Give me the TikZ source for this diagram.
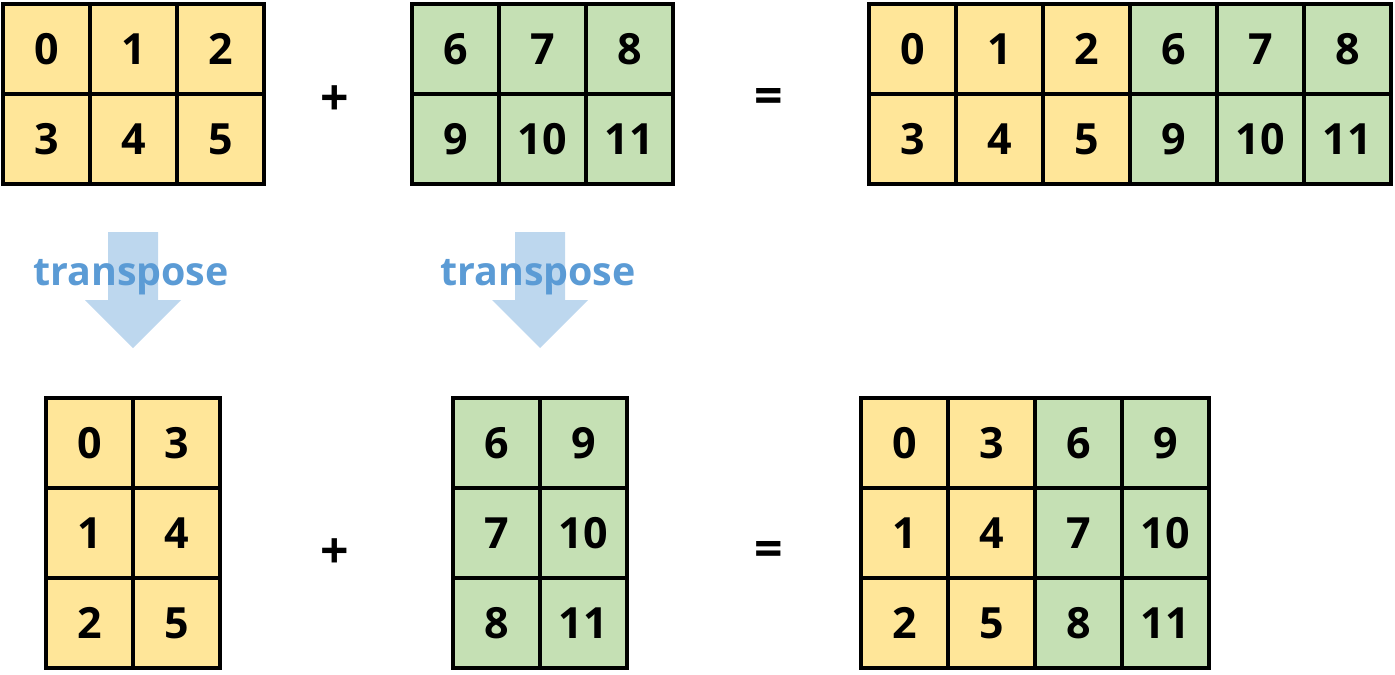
\documentclass[tikz,border=0pt]{standalone}
\usepackage{fontspec}
\setmainfont{Open Sans}
\usepackage{tikz}
\definecolor{cellyellow}{RGB}{255, 230, 153}
\definecolor{cellgreen}{RGB}{197, 224, 180}
\definecolor{arrowblue}{RGB}{189, 215, 238}
\definecolor{textblue}{RGB}{91, 155, 213}
\tikzset{
	cell/.style={draw=black, line width=2pt, minimum width=43.5pt, minimum height=45pt,
		inner sep=0pt, font=\fontsize{21.5}{25}\selectfont\bfseries},
	opsign/.style={font=\fontsize{25}{30}\selectfont\bfseries, inner sep=0pt},
	arrowlabel/.style={font=\fontsize{19.7}{23}\selectfont\bfseries, text=textblue, inner sep=0pt},
}
\begin{document}
\begin{tikzpicture}[x=0.5pt, y=-0.5pt]
	\useasboundingbox (0,0) rectangle (1395,674);
	\def\cw{87}
	\def\ch{90}

	% --- top row: A (2x3) + B (2x3) = [A B] ---
	\foreach \v [count=\i from 0] in {0,1,2,3,4,5} {
		\pgfmathtruncatemacro{\row}{\i/3}
		\pgfmathtruncatemacro{\col}{mod(\i,3)}
		\node[cell, fill=cellyellow] (a\v) at (3+0.5*\cw+\col*\cw, 4+0.5*\ch+\row*\ch) {\v};
	}
	\foreach \v [count=\i from 0] in {6,7,8,9,10,11} {
		\pgfmathtruncatemacro{\row}{\i/3}
		\pgfmathtruncatemacro{\col}{mod(\i,3)}
		\node[cell, fill=cellgreen] (b\v) at (412+0.5*\cw+\col*\cw, 4+0.5*\ch+\row*\ch) {\v};
	}
	\foreach \v [count=\i from 0] in {0,1,2,6,7,8,3,4,5,9,10,11} {
		\pgfmathtruncatemacro{\row}{\i/6}
		\pgfmathtruncatemacro{\col}{mod(\i,6)}
		\ifnum\col<3 \def\fillc{cellyellow}\else \def\fillc{cellgreen}\fi
		\node[cell, fill=\fillc] (ab\v) at (869+0.5*\cw+\col*\cw, 4+0.5*\ch+\row*\ch) {\v};
	}

	\node[opsign] (plustop) at (335,101) {+};
	\node[opsign] (eqtop) at (769,101) {=};

	% --- transpose arrows ---
	\foreach \ax/\nm in {133/tra, 540/trb} {
		\fill[arrowblue] (\ax-25,232) -- (\ax+25,232) -- (\ax+25,300) -- (\ax+48,300)
			-- (\ax,348) -- (\ax-48,300) -- (\ax-25,300) -- cycle;
		\node[arrowlabel] (\nm) at (\ax-2,277) {transpose};
	}

	% --- bottom row: A^T (3x2) + B^T (3x2) = [A^T B^T] ---
	\foreach \v [count=\i from 0] in {0,3,1,4,2,5} {
		\pgfmathtruncatemacro{\row}{\i/2}
		\pgfmathtruncatemacro{\col}{mod(\i,2)}
		\node[cell, fill=cellyellow] (at\v) at (46+0.5*\cw+\col*\cw, 398+0.5*\ch+\row*\ch) {\v};
	}
	\foreach \v [count=\i from 0] in {6,9,7,10,8,11} {
		\pgfmathtruncatemacro{\row}{\i/2}
		\pgfmathtruncatemacro{\col}{mod(\i,2)}
		\node[cell, fill=cellgreen] (bt\v) at (453+0.5*\cw+\col*\cw, 398+0.5*\ch+\row*\ch) {\v};
	}
	\foreach \v [count=\i from 0] in {0,3,6,9,1,4,7,10,2,5,8,11} {
		\pgfmathtruncatemacro{\row}{\i/4}
		\pgfmathtruncatemacro{\col}{mod(\i,4)}
		\ifnum\col<2 \def\fillc{cellyellow}\else \def\fillc{cellgreen}\fi
		\node[cell, fill=\fillc] (abt\v) at (861+0.5*\cw+\col*\cw, 398+0.5*\ch+\row*\ch) {\v};
	}

	\node[opsign] (plusbot) at (335,554) {+};
	\node[opsign] (eqbot) at (769,554) {=};
\end{tikzpicture}
\end{document}
